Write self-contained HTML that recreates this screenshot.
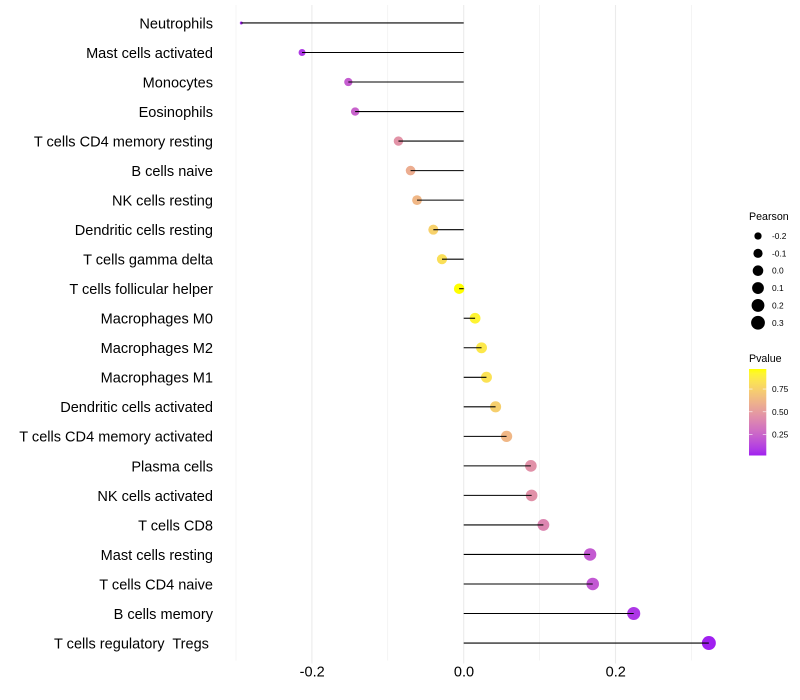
<!DOCTYPE html>
<html>
<head>
<meta charset="utf-8">
<title>Immune cell correlation lollipop chart</title>
<style>
html,body{margin:0;padding:0;background:#fff;}
svg{display:block;font-family:"Liberation Sans",Arial,sans-serif;}
text{white-space:pre;}
</style>
</head>
<body>
<svg id="chart" xmlns="http://www.w3.org/2000/svg" width="800" height="700" viewBox="0 0 800 700" xml:space="preserve">
<defs>
<linearGradient id="pvalue-gradient" x1="0" y1="1" x2="0" y2="0"></linearGradient>
</defs>
<rect width="800" height="700" fill="#fff"></rect>
<g id="grid"></g>
<g id="stems"></g>
<g id="ylabels"></g>
<g id="xlabels"></g>
<g id="size-legend"></g>
<g id="color-legend"></g>
</svg>
<script>
const categories = ["Neutrophils","Mast cells activated","Monocytes","Eosinophils","T cells CD4 memory resting","B cells naive","NK cells resting","Dendritic cells resting","T cells gamma delta","T cells follicular helper","Macrophages M0","Macrophages M2","Macrophages M1","Dendritic cells activated","T cells CD4 memory activated","Plasma cells","NK cells activated","T cells CD8","Mast cells resting","T cells CD4 naive","B cells memory","T cells regulatory  Tregs "];
const pearson = [-0.293,-0.213,-0.152,-0.143,-0.086,-0.07,-0.0615,-0.04,-0.0286,-0.006,0.015,0.0235,0.03,0.042,0.0565,0.0885,0.0895,0.105,0.1665,0.17,0.224,0.323];
const pvalue = [0.03,0.09,0.22,0.24,0.46,0.58,0.63,0.75,0.82,0.97,0.92,0.86,0.83,0.74,0.63,0.45,0.45,0.40,0.21,0.20,0.08,0.02];
const xMajorTicks = [-0.2,0,0.2];
const xMinorTicks = [-0.3,-0.1,0.1,0.3];
const xTickLabels = ["-0.2","0.0","0.2"];
const sizeLegendValues = [-0.2,-0.1,0,0.1,0.2,0.3];
const sizeLegendLabels = ["-0.2","-0.1","0.0","0.1","0.2","0.3"];
const colorLegendValues = [0.25,0.5,0.75];
const colorLegendLabels = ["0.25","0.50","0.75"];

const NS = "http://www.w3.org/2000/svg";
function make(tag, attrs, parent, txt){
  const el = document.createElementNS(NS, tag);
  for (const k in attrs) el.setAttribute(k, attrs[k]);
  if (txt !== undefined) el.textContent = txt;
  parent.appendChild(el);
  return el;
}
const xScale = v => 463.7 + v * 759;
const yScale = i => 22.97 + i * 29.527;
const panelTop = 5, panelBottom = 660.5;

const minOf = a => Math.min.apply(null, a), maxOf = a => Math.max.apply(null, a);
const rMin = 1.5, rMax = 7;
function radius(v){
  const lo = minOf(pearson), hi = maxOf(pearson);
  return rMin + Math.sqrt(Math.max(0, (v - lo) / (hi - lo))) * (rMax - rMin);
}
function srgb2lab(c){
  const l = c.map(u => { u /= 255; return u <= 0.04045 ? u / 12.92 : Math.pow((u + 0.055) / 1.055, 2.4); });
  const X = (0.4124564*l[0] + 0.3575761*l[1] + 0.1804375*l[2]) / 0.95047;
  const Y = 0.2126729*l[0] + 0.7151522*l[1] + 0.0721750*l[2];
  const Z = (0.0193339*l[0] + 0.1191920*l[1] + 0.9503041*l[2]) / 1.08883;
  const f = t => t > 0.008856 ? Math.cbrt(t) : 7.787 * t + 16 / 116;
  return [116*f(Y) - 16, 500*(f(X) - f(Y)), 200*(f(Y) - f(Z))];
}
function lab2srgb(c){
  const fy = (c[0] + 16) / 116, fx = c[1] / 500 + fy, fz = fy - c[2] / 200;
  const g = t => t*t*t > 0.008856 ? t*t*t : (t - 16/116) / 7.787;
  const X = g(fx) * 0.95047, Y = g(fy), Z = g(fz) * 1.08883;
  const l = [3.2404542*X - 1.5371385*Y - 0.4985314*Z, -0.9692660*X + 1.8760108*Y + 0.0415560*Z, 0.0556434*X - 0.2040259*Y + 1.0572252*Z];
  const out = l.map(u => { u = u <= 0.0031308 ? 12.92*u : 1.055*Math.pow(Math.max(u,0), 1/2.4) - 0.055; return Math.round(Math.min(1, Math.max(0, u)) * 255); });
  return "rgb(" + out.join(",") + ")";
}
const labLow = srgb2lab([160,32,240]), labHigh = srgb2lab([255,255,0]);
function colorAt(t){ return lab2srgb(labLow.map((a, i) => a + (labHigh[i] - a) * t)); }
function color(p){
  const lo = minOf(pvalue), hi = maxOf(pvalue);
  return colorAt((p - lo) / (hi - lo));
}

/* grid */
const gridG = document.getElementById("grid");
xMinorTicks.forEach(v => {
  const l = make("line", {x1:xScale(v), x2:xScale(v), y1:panelTop, y2:panelBottom, stroke:"#ebebeb", "stroke-width":0.55}, gridG);
  
  
});
xMajorTicks.forEach(v => {
  const l = make("line", {x1:xScale(v), x2:xScale(v), y1:panelTop, y2:panelBottom + 3, stroke:"#ebebeb", "stroke-width":1.07}, gridG);
  
  
});

/* marks */
const stemsG = document.getElementById("stems");
categories.forEach((c, i) => {
  const dot = make("circle", {cx:xScale(pearson[i]), cy:yScale(i), r:radius(pearson[i]), fill:color(pvalue[i])}, stemsG);
  
  
  const stem = make("line", {x1:xScale(0), x2:xScale(pearson[i]), y1:yScale(i), y2:yScale(i), stroke:"#000", "stroke-width":1.07}, stemsG);
  
  
});

/* y labels */
const yG = document.getElementById("ylabels");
categories.forEach((c, i) => {
  const t = make("text", {x:213, y:yScale(i) + 5.4, "text-anchor":"end", "font-size":14.55, fill:"#000"}, yG, c);
  
  
});

/* x labels */
const xG = document.getElementById("xlabels");
xMajorTicks.forEach((v, i) => {
  const t = make("text", {x:xScale(v) + 0.3, y:676.3, "text-anchor":"middle", "font-size":14.55, fill:"#000"}, xG, xTickLabels[i]);
  
  
});

/* size legend */
const sG = document.getElementById("size-legend");
const sizeTitle = make("text", {x:749, y:220, "font-size":10.67, fill:"#000"}, sG, "Pearson");


sizeLegendValues.forEach((v, i) => {
  const y = 236 + i * 17.35;
  const k = make("circle", {cx:758, cy:y, r:radius(v), fill:"#000"}, sG);
  
  
  const t = make("text", {x:772, y:y + 3, "font-size":8.4, fill:"#000"}, sG, sizeLegendLabels[i]);
  
  
});

/* colour legend */
const cG = document.getElementById("color-legend");
const grad = document.getElementById("pvalue-gradient");
for (let k = 0; k <= 20; k++) {
  make("stop", {offset:(k * 5) + "%", "stop-color":colorAt(k / 20)}, grad);
}
const colorTitle = make("text", {x:749, y:362, "font-size":10.67, fill:"#000"}, cG, "Pvalue");


const barTop = 369, barBottom = 455.5, barX = 749, barW = 17.3;
const bar = make("rect", {x:barX, y:barTop, width:barW, height:barBottom - barTop, fill:"url(#pvalue-gradient)"}, cG);


const barY = p => barBottom - (p - minOf(pvalue)) / (maxOf(pvalue) - minOf(pvalue)) * (barBottom - barTop);
colorLegendValues.forEach((p, i) => {
  const y = barY(p);
  const a = make("line", {x1:barX, x2:barX + 3.5, y1:y, y2:y, stroke:"#fff", "stroke-width":0.6}, cG);
  
  
  const b = make("line", {x1:barX + barW - 3.5, x2:barX + barW, y1:y, y2:y, stroke:"#fff", "stroke-width":0.6}, cG);
  
  
  const t = make("text", {x:772, y:y + 3, "font-size":8.4, fill:"#000"}, cG, colorLegendLabels[i]);
  
  
});
</script>
</body>
</html>
